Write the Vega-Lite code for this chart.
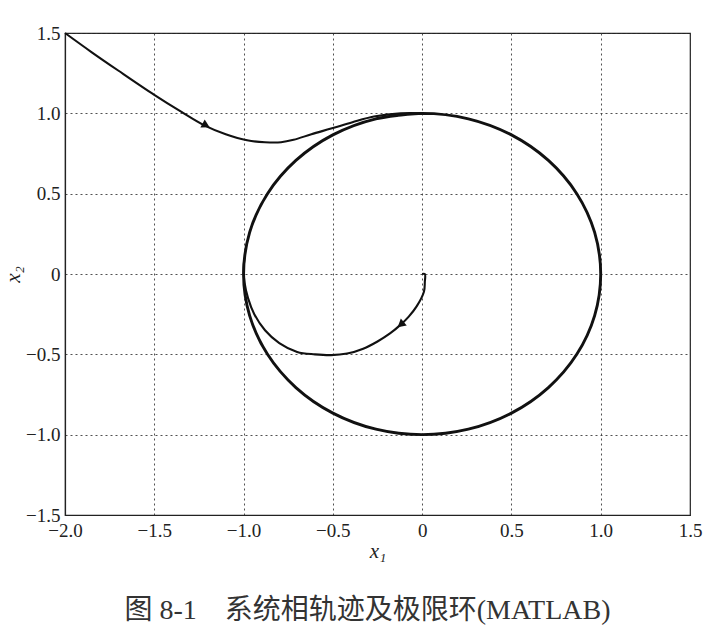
{
  "$schema": "https://vega.github.io/schema/vega-lite/v6.json",
  "autosize": {"type": "none"},
  "padding": {"left": 65, "top": 33, "right": 20, "bottom": 115},
  "width": 625,
  "height": 482,
  "title": {
    "text": "图 8-1　系统相轨迹及极限环(MATLAB)",
    "orient": "bottom",
    "anchor": "middle",
    "offset": 36,
    "dx": -10,
    "font": "Liberation Serif, Noto Sans CJK SC",
    "fontSize": 28,
    "fontWeight": "normal",
    "color": "#333"
  },
  "config": {
    "view": {"stroke": "#222", "strokeWidth": 1.2},
    "axis": {
      "labelFont": "Liberation Serif",
      "labelFontSize": 19,
      "labelColor": "#222",
      "labelOverlap": false,
      "labelFlush": false,
      "labelBound": false,
      "domainColor": "#222",
      "domainWidth": 1.2,
      "ticks": false,
      "grid": true,
      "gridColor": "#333",
      "gridDash": [2, 3],
      "gridWidth": 1,
      "gridOpacity": 0.85,
      "titleFont": "Liberation Serif",
      "titleFontStyle": "italic",
      "titleFontWeight": "normal",
      "titleFontSize": 21,
      "titleColor": "#222"
    }
  },
  "datasets": {
    "traj": [
      {"series": "outer", "i": 0, "x1": -2.0, "x2": 1.5},
      {"series": "outer", "i": 1, "x1": -1.85, "x2": 1.38},
      {"series": "outer", "i": 2, "x1": -1.7, "x2": 1.265},
      {"series": "outer", "i": 3, "x1": -1.5, "x2": 1.115},
      {"series": "outer", "i": 4, "x1": -1.35, "x2": 1.01},
      {"series": "outer", "i": 5, "x1": -1.22, "x2": 0.925},
      {"series": "outer", "i": 6, "x1": -1.1, "x2": 0.87},
      {"series": "outer", "i": 7, "x1": -0.98, "x2": 0.832},
      {"series": "outer", "i": 8, "x1": -0.88, "x2": 0.82},
      {"series": "outer", "i": 9, "x1": -0.79, "x2": 0.82},
      {"series": "outer", "i": 10, "x1": -0.72, "x2": 0.835},
      {"series": "outer", "i": 11, "x1": -0.62, "x2": 0.87},
      {"series": "outer", "i": 12, "x1": -0.51, "x2": 0.905},
      {"series": "outer", "i": 13, "x1": -0.39, "x2": 0.945},
      {"series": "outer", "i": 14, "x1": -0.27, "x2": 0.98},
      {"series": "outer", "i": 15, "x1": -0.12, "x2": 1.0},
      {"series": "outer", "i": 16, "x1": 0.0, "x2": 1.0},
      {"series": "inner", "i": 0, "x1": 0.0, "x2": 0.0},
      {"series": "inner", "i": 1, "x1": 0.015, "x2": 0.0},
      {"series": "inner", "i": 2, "x1": 0.015, "x2": -0.05},
      {"series": "inner", "i": 3, "x1": 0.01, "x2": -0.11},
      {"series": "inner", "i": 4, "x1": -0.03, "x2": -0.2},
      {"series": "inner", "i": 5, "x1": -0.075, "x2": -0.265},
      {"series": "inner", "i": 6, "x1": -0.12, "x2": -0.315},
      {"series": "inner", "i": 7, "x1": -0.18, "x2": -0.37},
      {"series": "inner", "i": 8, "x1": -0.25, "x2": -0.42},
      {"series": "inner", "i": 9, "x1": -0.33, "x2": -0.465},
      {"series": "inner", "i": 10, "x1": -0.42, "x2": -0.495},
      {"series": "inner", "i": 11, "x1": -0.51, "x2": -0.505},
      {"series": "inner", "i": 12, "x1": -0.6, "x2": -0.5},
      {"series": "inner", "i": 13, "x1": -0.7, "x2": -0.485},
      {"series": "inner", "i": 14, "x1": -0.8, "x2": -0.43},
      {"series": "inner", "i": 15, "x1": -0.88, "x2": -0.35},
      {"series": "inner", "i": 16, "x1": -0.94, "x2": -0.25},
      {"series": "inner", "i": 17, "x1": -0.975, "x2": -0.15},
      {"series": "inner", "i": 18, "x1": -0.995, "x2": -0.05},
      {"series": "inner", "i": 19, "x1": -1.0, "x2": 0.02},
      {"series": "inner", "i": 20, "x1": -0.995, "x2": 0.1}
    ],
    "cycle": [
      {"i": 0, "x1": -0.259, "x2": 0.966},
      {"i": 1, "x1": 0.0, "x2": 1.0},
      {"i": 2, "x1": 0.259, "x2": 0.966},
      {"i": 3, "x1": 0.5, "x2": 0.866},
      {"i": 4, "x1": 0.707, "x2": 0.707},
      {"i": 5, "x1": 0.866, "x2": 0.5},
      {"i": 6, "x1": 0.966, "x2": 0.259},
      {"i": 7, "x1": 1.0, "x2": 0.0},
      {"i": 8, "x1": 0.966, "x2": -0.259},
      {"i": 9, "x1": 0.866, "x2": -0.5},
      {"i": 10, "x1": 0.707, "x2": -0.707},
      {"i": 11, "x1": 0.5, "x2": -0.866},
      {"i": 12, "x1": 0.259, "x2": -0.966},
      {"i": 13, "x1": 0.0, "x2": -1.0},
      {"i": 14, "x1": -0.259, "x2": -0.966},
      {"i": 15, "x1": -0.5, "x2": -0.866},
      {"i": 16, "x1": -0.707, "x2": -0.707},
      {"i": 17, "x1": -0.866, "x2": -0.5},
      {"i": 18, "x1": -0.966, "x2": -0.259},
      {"i": 19, "x1": -1.0, "x2": 0.0},
      {"i": 20, "x1": -0.966, "x2": 0.259},
      {"i": 21, "x1": -0.866, "x2": 0.5},
      {"i": 22, "x1": -0.707, "x2": 0.707},
      {"i": 23, "x1": -0.5, "x2": 0.866},
      {"i": 24, "x1": -0.259, "x2": 0.966},
      {"i": 25, "x1": 0.0, "x2": 1.0}
    ],
    "arrows": [
      {"series": "outer", "x1": -1.21, "x2": 0.925},
      {"series": "inner", "x1": -0.12, "x2": -0.315}
    ]
  },
  "encoding": {
    "x": {
      "field": "x1",
      "type": "quantitative",
      "scale": {"domain": [-2, 1.5], "nice": false, "zero": false},
      "axis": {
        "title": "x₁",
        "values": [-2, -1.5, -1, -0.5, 0, 0.5, 1, 1.5],
        "labelExpr": "datum.value === 0 ? '0' : format(datum.value, '.1f')",
        "labelPadding": 6,
        "titlePadding": 0
      }
    },
    "y": {
      "field": "x2",
      "type": "quantitative",
      "scale": {"domain": [-1.5, 1.5], "nice": false, "zero": false},
      "axis": {
        "title": "x₂",
        "values": [-1.5, -1, -0.5, 0, 0.5, 1, 1.5],
        "labelExpr": "datum.value === 0 ? '0' : format(datum.value, '.1f')",
        "labelPadding": 5,
        "titlePadding": 2
      }
    }
  },
  "layer": [
    {
      "data": {"name": "traj"},
      "mark": {"type": "line", "color": "#111", "strokeWidth": 2.1, "interpolate": "catmull-rom"},
      "encoding": {
        "detail": {"field": "series", "type": "nominal"},
        "order": {"field": "i", "type": "quantitative"}
      }
    },
    {
      "data": {"name": "cycle"},
      "mark": {"type": "line", "color": "#111", "strokeWidth": 2.9, "interpolate": "catmull-rom"},
      "encoding": {
        "order": {"field": "i", "type": "quantitative"}
      }
    },
    {
      "data": {"name": "arrows"},
      "transform": [{"filter": "datum.series === 'outer'"}],
      "mark": {"type": "point", "shape": "triangle-right", "filled": true, "size": 85, "color": "#111", "opacity": 1, "angle": 28},
      "encoding": {}
    },
    {
      "data": {"name": "arrows"},
      "transform": [{"filter": "datum.series === 'inner'"}],
      "mark": {"type": "point", "shape": "triangle-right", "filled": true, "size": 85, "color": "#111", "opacity": 1, "angle": 140},
      "encoding": {}
    }
  ]
}
